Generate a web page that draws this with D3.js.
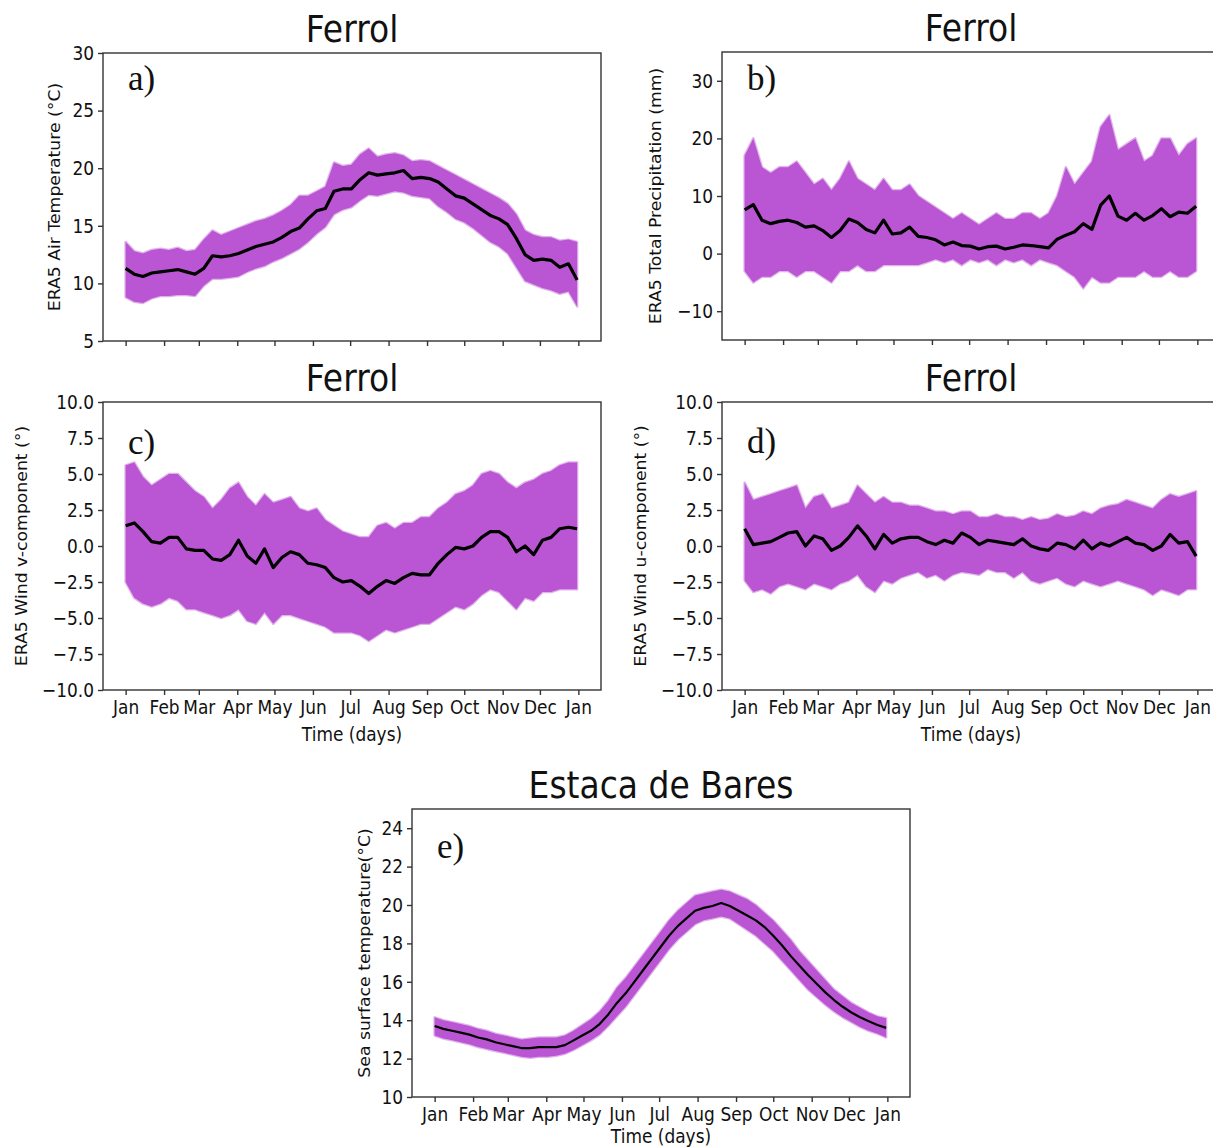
<!DOCTYPE html>
<html lang="en">
<head>
<meta charset="utf-8">
<title>Ferrol / Estaca de Bares</title>
<script src="https://cdn.jsdelivr.net/npm/d3@7"></script>
<style>
  body { margin: 0; background: #fff; }
  svg { display: block; }
  text { font-family: "DejaVu Sans", sans-serif; fill: #111; }
  .tag { font-family: "Liberation Serif", "Times New Roman", serif; }
</style>
</head>
<body>
<script>
// sampled day of year (weekly)
var days = [0, 7, 14, 21, 28, 35, 42, 49, 56, 63, 70, 77, 84, 91, 98, 105, 112, 119, 126, 133,
  140, 147, 154, 161, 168, 175, 182, 189, 196, 203, 210, 217, 224, 231, 238, 245, 252, 259, 266, 273,
  280, 287, 294, 301, 308, 315, 322, 329, 336, 343, 350, 357, 364];

// month ticks
var monthDays = [0, 31, 59, 90, 120, 151, 181, 212, 243, 273, 304, 334, 365];
var monthLabels = ["Jan", "Feb", "Mar", "Apr", "May", "Jun", "Jul", "Aug", "Sep", "Oct", "Nov", "Dec", "Jan"];

// a) air temperature
var airMean = [11.3, 10.8, 10.6, 10.9, 11.0, 11.1, 11.2, 11.0, 10.8, 11.3, 12.4, 12.3, 12.4, 12.6, 12.9, 13.2, 13.4, 13.6, 14.0, 14.5,
  14.8, 15.6, 16.3, 16.5, 18.0, 18.2, 18.2, 19.0, 19.6, 19.4, 19.5, 19.6, 19.8, 19.1, 19.2, 19.1, 18.8, 18.2, 17.6, 17.4,
  16.9, 16.4, 15.9, 15.6, 15.1, 13.9, 12.5, 12.0, 12.1, 12.0, 11.4, 11.7, 10.3];
var airHigh = [13.6, 12.8, 12.6, 12.9, 13.0, 12.9, 13.1, 12.8, 12.9, 13.8, 14.6, 14.2, 14.5, 14.8, 15.1, 15.4, 15.6, 15.9, 16.3, 16.8,
  17.6, 17.6, 18.0, 18.4, 20.5, 20.2, 20.3, 21.2, 21.7, 21.0, 21.2, 21.3, 21.1, 20.6, 20.7, 20.6, 20.2, 19.8, 19.4, 19.0,
  18.6, 18.2, 17.8, 17.4, 16.9, 16.0, 14.6, 14.2, 14.0, 14.0, 13.7, 13.8, 13.6];
var airLow = [8.8, 8.4, 8.3, 8.7, 8.9, 8.9, 9.0, 9.0, 8.9, 9.8, 10.4, 10.4, 10.5, 10.6, 11.0, 11.3, 11.5, 11.9, 12.2, 12.6,
  13.0, 13.6, 14.3, 14.9, 16.0, 16.4, 16.6, 17.2, 17.7, 17.6, 17.8, 18.0, 17.9, 17.6, 17.5, 17.4, 16.7, 16.2, 15.6, 15.3,
  14.8, 14.2, 13.6, 13.2, 12.6, 11.4, 10.2, 9.9, 9.6, 9.4, 9.1, 9.3, 8.0];

// b) total precipitation
var precipMean = [7.6, 8.5, 5.8, 5.2, 5.6, 5.8, 5.4, 4.6, 4.8, 4.0, 2.8, 4.0, 6.0, 5.4, 4.2, 3.6, 5.8, 3.4, 3.6, 4.6,
  3.0, 2.8, 2.4, 1.5, 2.0, 1.4, 1.3, 0.8, 1.2, 1.3, 0.8, 1.1, 1.5, 1.4, 1.2, 1.0, 2.5, 3.2, 3.8, 5.2,
  4.2, 8.4, 10.0, 6.5, 5.8, 7.0, 5.8, 6.6, 7.8, 6.4, 7.2, 7.0, 8.2];
var precipHigh = [17, 20, 15, 14, 15, 15, 16, 14, 12, 13, 11, 13, 16, 13, 12, 11, 13, 11, 11, 12,
  10, 9, 8, 7, 6, 7, 6, 5, 6, 7, 6, 6, 7, 7, 6, 7, 10, 15, 12, 14,
  16, 22, 24, 18, 19, 20, 16, 17, 20, 20, 17, 19, 20];
var precipLow = [-3, -5, -4, -4, -3, -3, -4, -3, -3, -4, -5, -3, -3, -2, -3, -3, -2, -2, -2, -2,
  -2, -1.5, -1, -1.5, -1, -2, -1, -1.5, -1, -2, -1, -1.5, -1, -2, -1, -1.5, -2, -3, -4, -6,
  -4, -5, -5, -4, -4, -4, -3, -4, -4, -3, -4, -4, -3];

// c) wind v-component
var vMean = [1.4, 1.6, 1.0, 0.3, 0.2, 0.6, 0.6, -0.2, -0.3, -0.3, -0.9, -1.0, -0.6, 0.4, -0.7, -1.2, -0.2, -1.5, -0.8, -0.4,
  -0.6, -1.2, -1.3, -1.5, -2.2, -2.5, -2.4, -2.8, -3.3, -2.8, -2.4, -2.6, -2.2, -1.9, -2.0, -2.0, -1.2, -0.6, -0.1, -0.2,
  0.0, 0.6, 1.0, 1.0, 0.6, -0.4, 0.0, -0.6, 0.4, 0.6, 1.2, 1.3, 1.2];
var vHigh = [5.6, 5.8, 4.8, 4.2, 4.6, 5.0, 5.0, 4.4, 3.8, 3.4, 2.6, 3.2, 4.0, 4.4, 3.4, 2.8, 3.6, 3.0, 3.2, 3.4,
  2.6, 2.4, 2.6, 1.8, 1.4, 1.0, 0.8, 0.6, 0.6, 1.4, 1.6, 1.2, 1.6, 1.6, 2.0, 2.0, 2.6, 3.0, 3.6, 3.8,
  4.2, 5.0, 5.2, 5.0, 4.4, 4.0, 4.4, 4.6, 5.0, 5.2, 5.6, 5.8, 5.8];
var vLow = [-2.5, -3.6, -4.0, -4.2, -4.0, -3.6, -3.8, -4.4, -4.4, -4.6, -4.8, -5.0, -4.8, -4.4, -5.2, -5.4, -4.6, -5.4, -4.8, -4.8,
  -5.0, -5.2, -5.4, -5.6, -6.0, -6.0, -6.0, -6.2, -6.6, -6.2, -5.8, -6.0, -5.8, -5.6, -5.4, -5.4, -5.0, -4.6, -4.2, -4.4,
  -4.0, -3.4, -3.0, -3.2, -3.8, -4.4, -3.6, -3.8, -3.2, -3.2, -3.0, -3.0, -3.0];

// d) wind u-component
var uMean = [1.2, 0.1, 0.2, 0.3, 0.6, 0.9, 1.0, 0.0, 0.7, 0.5, -0.3, 0.0, 0.6, 1.4, 0.7, -0.2, 0.8, 0.2, 0.5, 0.6,
  0.6, 0.3, 0.1, 0.4, 0.2, 0.9, 0.6, 0.1, 0.4, 0.3, 0.2, 0.1, 0.5, 0.0, -0.2, -0.3, 0.2, 0.1, -0.2, 0.4,
  -0.2, 0.2, 0.0, 0.3, 0.6, 0.2, 0.1, -0.3, 0.0, 0.8, 0.2, 0.3, -0.7];
var uHigh = [4.4, 3.2, 3.4, 3.6, 3.8, 4.0, 4.2, 2.6, 3.4, 3.6, 2.6, 2.8, 3.0, 4.2, 3.6, 3.0, 3.4, 3.0, 3.0, 2.8,
  2.8, 2.6, 2.4, 2.4, 2.2, 2.4, 2.4, 2.0, 2.0, 2.2, 2.0, 2.0, 1.8, 2.0, 1.8, 1.9, 2.2, 2.0, 2.1, 2.4,
  2.2, 2.6, 2.8, 2.9, 3.2, 3.0, 2.8, 2.6, 3.2, 3.6, 3.4, 3.6, 3.8];
var uLow = [-2.4, -3.2, -3.0, -3.3, -2.8, -2.6, -2.8, -3.0, -2.6, -2.8, -3.0, -2.6, -2.4, -2.0, -2.8, -3.2, -2.4, -2.6, -2.2, -2.0,
  -1.8, -2.2, -2.0, -2.4, -2.0, -1.8, -1.9, -2.0, -1.6, -1.8, -1.8, -2.2, -1.8, -2.4, -2.6, -2.4, -2.2, -2.6, -2.8, -2.4,
  -2.6, -2.8, -2.6, -2.4, -2.6, -2.8, -3.0, -3.4, -3.0, -3.2, -3.4, -3.0, -3.0];

// e) sea surface temperature
var sstMean = [13.70, 13.55, 13.45, 13.35, 13.25, 13.10, 13.00, 12.85, 12.75, 12.65, 12.55, 12.55, 12.60, 12.60, 12.60, 12.70, 12.95, 13.20, 13.45, 13.80,
  14.30, 14.90, 15.40, 16.00, 16.60, 17.20, 17.80, 18.40, 18.90, 19.30, 19.70, 19.85, 19.95, 20.10, 19.95, 19.70, 19.45, 19.20, 18.85, 18.40,
  17.90, 17.35, 16.85, 16.35, 15.90, 15.45, 15.05, 14.70, 14.40, 14.15, 13.95, 13.75, 13.60];
var sstHigh = [14.15, 14.0, 13.9, 13.8, 13.7, 13.55, 13.45, 13.3, 13.2, 13.1, 13.0, 13.05, 13.1, 13.1, 13.1, 13.2, 13.45, 13.75, 14.05, 14.45,
  15.0, 15.7, 16.2, 16.8, 17.4, 18.0, 18.6, 19.2, 19.7, 20.1, 20.5, 20.6, 20.7, 20.8, 20.7, 20.5, 20.3, 20.0, 19.6, 19.2,
  18.7, 18.2, 17.6, 17.1, 16.6, 16.1, 15.6, 15.25, 14.9, 14.65, 14.4, 14.2, 14.1];
var sstLow = [13.2, 13.05, 12.95, 12.85, 12.75, 12.6, 12.5, 12.4, 12.3, 12.2, 12.1, 12.05, 12.1, 12.1, 12.15, 12.25, 12.45, 12.7, 12.95, 13.25,
  13.7, 14.2, 14.7, 15.3, 15.9, 16.5, 17.1, 17.7, 18.2, 18.6, 19.0, 19.2, 19.3, 19.4, 19.3, 19.0, 18.7, 18.4, 18.0, 17.6,
  17.1, 16.6, 16.1, 15.6, 15.2, 14.8, 14.45, 14.15, 13.9, 13.65, 13.45, 13.3, 13.1];

var W = 498, H = 288;
var band = "#ba55d3";
var sy = 1.15;   // the source figure is slightly stretched vertically

var panels = [
  { tag: "a)", title: "Ferrol", ylabel: "ERA5 Air Temperature (°C)", x: 103, y: 53,
    yDomain: [5, 30], yTicks: [5, 10, 15, 20, 25, 30], fmt: d3.format("d"),
    mean: airMean, hi: airHigh, lo: airLow, xLabels: false, lw: 3.2, tagY: 37, labX: 55, xlabY: 51 },
  { tag: "b)", title: "Ferrol", ylabel: "ERA5 Total Precipitation (mm)", x: 722, y: 52,
    yDomain: [-15, 35], yTicks: [-10, 0, 10, 20, 30], fmt: d3.format("d"),
    mean: precipMean, hi: precipHigh, lo: precipLow, xLabels: false, lw: 3.2, tagY: 38, labX: 656, xlabY: 51 },
  { tag: "c)", title: "Ferrol", ylabel: "ERA5 Wind v-component (°)", x: 103, y: 402,
    yDomain: [-10, 10], yTicks: [-10, -7.5, -5, -2.5, 0, 2.5, 5, 7.5, 10], fmt: d3.format(".1f"),
    mean: vMean, hi: vHigh, lo: vLow, xLabels: true, lw: 3.2, tagY: 52, labX: 22, xlabY: 51 },
  { tag: "d)", title: "Ferrol", ylabel: "ERA5 Wind u-component (°)", x: 722, y: 402,
    yDomain: [-10, 10], yTicks: [-10, -7.5, -5, -2.5, 0, 2.5, 5, 7.5, 10], fmt: d3.format(".1f"),
    mean: uMean, hi: uHigh, lo: uLow, xLabels: true, lw: 3.2, tagY: 51, labX: 641, xlabY: 51 },
  { tag: "e)", title: "Estaca de Bares", ylabel: "Sea surface temperature(°C)", x: 412, y: 809,
    yDomain: [10, 25], yTicks: [10, 12, 14, 16, 18, 20, 22, 24], fmt: d3.format("d"),
    mean: sstMean, hi: sstHigh, lo: sstLow, xLabels: true, lw: 2.2, tagY: 49, labX: 365, xlabY: 46 }
];

var svg = d3.select("body").append("svg")
  .attr("width", 1213)
  .attr("height", 1148);

svg.append("rect").attr("width", 1213).attr("height", 1148).attr("fill", "#fff");

panels.forEach(function(p) {
  var g = svg.append("g").attr("transform", "translate(" + p.x + "," + p.y + ")");

  // 5% margin on each side of the year, like matplotlib
  var x = d3.scaleLinear().domain([-18.25, 383.25]).range([0, W]);
  var y = d3.scaleLinear().domain(p.yDomain).range([H, 0]);

  var rows = days.map(function(d, i) {
    return { day: d, m: p.mean[i], hi: p.hi[i], lo: p.lo[i] };
  });

  // daily range band
  g.append("path")
    .datum(rows)
    .attr("d", d3.area()
      .x(function(d) { return x(d.day); })
      .y0(function(d) { return y(d.lo); })
      .y1(function(d) { return y(d.hi); }))
    .attr("fill", band)
    .attr("stroke", band)
    .attr("stroke-opacity", 0.45)
    .attr("stroke-width", 2.5)
    .attr("stroke-linejoin", "round");

  // mean line
  g.append("path")
    .datum(rows)
    .attr("d", d3.line()
      .x(function(d) { return x(d.day); })
      .y(function(d) { return y(d.m); }))
    .attr("fill", "none")
    .attr("stroke", "#000")
    .attr("stroke-width", p.lw)
    .attr("stroke-linejoin", "round");

  // axes
  var xAxis = d3.axisBottom(x)
    .tickValues(monthDays)
    .tickSize(5)
    .tickPadding(4)
    .tickFormat(function(d, i) { return p.xLabels ? monthLabels[i] : ""; });

  var yAxis = d3.axisLeft(y)
    .tickValues(p.yTicks)
    .tickSize(5)
    .tickPadding(4)
    .tickFormat(p.fmt);

  var gx = g.append("g").attr("transform", "translate(0," + H + ")").call(xAxis);
  var gy = g.append("g").call(yAxis);

  [gx, gy].forEach(function(ax) {
    ax.select(".domain").remove();
    ax.attr("font-family", "DejaVu Sans, sans-serif").attr("font-size", 17);
    ax.selectAll("line").attr("stroke", "#333").attr("stroke-width", 1.4);
    ax.selectAll("text").attr("fill", "#111").attr("transform", "scale(1," + sy + ")");
  });

  // frame
  g.append("rect")
    .attr("width", W)
    .attr("height", H)
    .attr("fill", "none")
    .attr("stroke", "#333")
    .attr("stroke-width", 1.4);

  // title
  svg.append("text")
    .attr("transform", "translate(" + (p.x + W / 2) + "," + (p.y - 11) + ") scale(1,1.12)")
    .attr("text-anchor", "middle")
    .attr("font-size", 33)
    .text(p.title);

  // y label
  svg.append("text")
    .attr("transform", "translate(" + p.labX + "," + (p.y + H / 2) + ") rotate(-90) scale(" + sy + ",1)")
    .attr("text-anchor", "middle")
    .attr("dy", "0.36em")
    .attr("font-size", 15)
    .text(p.ylabel);

  // x label
  if (p.xLabels) {
    svg.append("text")
      .attr("transform", "translate(" + (p.x + W / 2) + "," + (p.y + H + p.xlabY) + ") scale(1," + sy + ")")
      .attr("text-anchor", "middle")
      .attr("font-size", 17)
      .text("Time (days)");
  }

  // panel tag
  svg.append("text")
    .attr("class", "tag")
    .attr("x", p.x + 25)
    .attr("y", p.y + p.tagY)
    .attr("font-size", 35)
    .text(p.tag);
});
</script>
</body>
</html>
